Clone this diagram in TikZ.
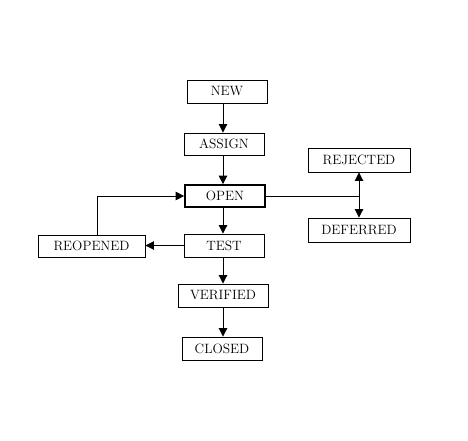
\documentclass[tikz,border=0pt]{standalone}
\usetikzlibrary{arrows.meta}
\begin{document}
\begin{tikzpicture}[x=1pt,y=-1pt,
  box/.style={draw,line width=0.9pt,rectangle,inner sep=0pt,minimum height=23pt,font=\fontsize{13.5}{15}\selectfont},
  arr/.style={line width=0.9pt,-{Triangle[length=8.5pt,width=8.5pt]}},
  ln/.style={line width=0.9pt}]
\useasboundingbox (0,0) rectangle (468,440);
\node[box,minimum width=80pt] (NEW) at (227,91.5) {NEW};
\node[box,minimum width=80pt,minimum height=22pt] (ASSIGN) at (224,144) {ASSIGN};
\node[box,minimum width=80pt,minimum height=22pt,line width=1.7pt] (OPEN) at (225,196) {OPEN};
\node[box,minimum width=80pt] (TEST) at (224,245.5) {TEST};
\node[box,minimum width=90pt] (VERIFIED) at (223,295.5) {VERIFIED};
\node[box,minimum width=80pt] (CLOSED) at (222,348.5) {CLOSED};
\node[box,minimum width=102pt,minimum height=24pt] (REJECTED) at (359,160) {REJECTED};
\node[box,minimum width=102pt,minimum height=24pt] (DEFERRED) at (359,230) {DEFERRED};
\node[box,minimum width=107pt,minimum height=22pt] (REOPENED) at (91.5,246) {REOPENED};
\coordinate (col) at (223,0);
\coordinate (jx) at (359,0);
\draw[arr] (NEW.south -| col) -- (ASSIGN.north -| col);
\draw[arr] (ASSIGN.south -| col) -- (OPEN.north -| col);
\draw[arr] (OPEN.south -| col) -- (TEST.north -| col);
\draw[arr] (TEST.south -| col) -- (VERIFIED.north -| col);
\draw[arr] (VERIFIED.south -| col) -- (CLOSED.north -| col);
\coordinate (j) at (OPEN.east -| jx);
\draw[ln] (OPEN.east) -- (j);
\draw[arr] (j) -- (REJECTED.south);
\draw[arr] (j) -- (DEFERRED.north);
\draw[arr] (TEST.west) -- (TEST.west -| REOPENED.east);
\draw[arr] ([xshift=5.5pt]REOPENED.north) |- (OPEN.west);
\end{tikzpicture}
\end{document}
